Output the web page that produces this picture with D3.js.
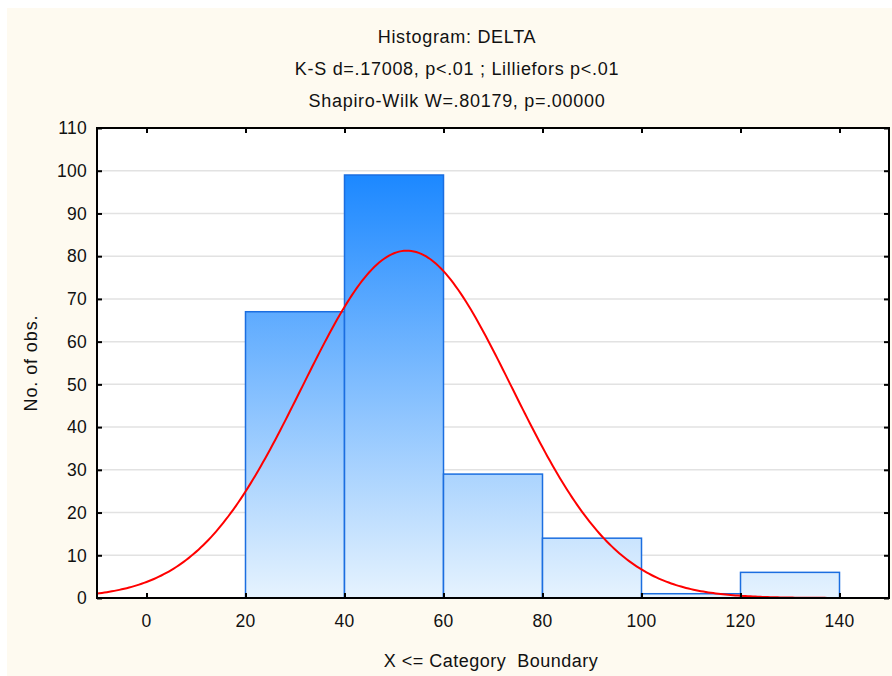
<!DOCTYPE html>
<html>
<head>
<meta charset="utf-8">
<script src="https://cdn.jsdelivr.net/npm/d3@7"></script>
<style>
  body { margin: 0; background: #fff; }
  text { font-family: "Liberation Sans", Arial, sans-serif; fill: #111; }
</style>
</head>
<body>
<div id="chart"></div>
<script>
// histogram bins (lower boundaries) and counts
const binStarts = [20, 40, 60, 80, 100, 120];
const binWidth = 20;
const counts = [67, 99, 29, 14, 1, 6];
const xTicks = [0, 20, 40, 60, 80, 100, 120, 140];
const yTicks = [0, 10, 20, 30, 40, 50, 60, 70, 80, 90, 100, 110];
const titleLines = [
  "Histogram: DELTA",
  "K-S d=.17008, p<.01 ; Lilliefors p<.01",
  "Shapiro-Wilk W=.80179, p=.00000"
];
// fitted normal: mean / sd
const fitMean = 52.6;
const fitSd = 21.2;
const nObs = d3.sum(counts);

const width = 892, height = 676;
const margin = { left: 97, right: 3, top: 128, bottom: 78 };

const svg = d3.select("#chart").append("svg")
  .attr("width", width)
  .attr("height", height);

// cream background panel
svg.append("rect")
  .attr("x", 7).attr("y", 8)
  .attr("width", width - 7).attr("height", height - 8)
  .attr("fill", "#fefaf0");

const x = d3.scaleLinear().domain([-10, 150]).range([margin.left, width - margin.right]);
const y = d3.scaleLinear().domain([0, 110]).range([height - margin.bottom, margin.top]);

// plot area
svg.append("rect")
  .attr("x", x(-10)).attr("y", y(110))
  .attr("width", x(150) - x(-10)).attr("height", y(0) - y(110))
  .attr("fill", "#fff");

// gridlines
svg.append("g")
  .selectAll("line")
  .data(yTicks.filter(d => d > 0 && d < 110))
  .enter().append("line")
  .attr("x1", x(-10)).attr("x2", x(150))
  .attr("y1", d => y(d)).attr("y2", d => y(d))
  .attr("stroke", "#e2e2e2")
  .attr("stroke-width", 1.5);

// vertical gradient shared across bars
const grad = svg.append("defs").append("linearGradient")
  .attr("id", "barGrad")
  .attr("gradientUnits", "userSpaceOnUse")
  .attr("x1", 0).attr("x2", 0)
  .attr("y1", y(99)).attr("y2", y(0));
grad.append("stop").attr("offset", 0).attr("stop-color", "#1c88ff");
grad.append("stop").attr("offset", 1).attr("stop-color", "#e6f3fe");

svg.append("g")
  .selectAll("rect")
  .data(counts)
  .enter().append("rect")
  .attr("x", (d, i) => x(binStarts[i]))
  .attr("y", d => y(d))
  .attr("width", (d, i) => x(binStarts[i] + binWidth) - x(binStarts[i]))
  .attr("height", d => y(0) - y(d))
  .attr("fill", "url(#barGrad)")
  .attr("stroke", "#1b6ee0")
  .attr("stroke-width", 1.5);

// normal fit curve
const normal = v => nObs * binWidth / (fitSd * Math.sqrt(2 * Math.PI)) *
  Math.exp(-0.5 * Math.pow((v - fitMean) / fitSd, 2));
const curveXs = d3.range(-10, 150.01, 0.5);
svg.append("path")
  .datum(curveXs)
  .attr("fill", "none")
  .attr("stroke", "#ff0000")
  .attr("stroke-width", 2)
  .attr("d", d3.line().x(d => x(d)).y(d => y(normal(d))));

// axes with inward ticks
const tickLen = 5;
svg.append("g")
  .attr("transform", `translate(${x(-10)},0)`)
  .call(d3.axisRight(y).tickValues(yTicks).tickSize(tickLen).tickFormat(""))
  .call(g => g.select(".domain").remove());
svg.append("g")
  .attr("transform", `translate(${x(150)},0)`)
  .call(d3.axisLeft(y).tickValues(yTicks).tickSize(tickLen).tickFormat(""))
  .call(g => g.select(".domain").remove());
svg.append("g")
  .attr("transform", `translate(0,${y(0)})`)
  .call(d3.axisTop(x).tickValues(xTicks).tickSize(tickLen).tickFormat(""))
  .call(g => g.select(".domain").remove());
svg.append("g")
  .attr("transform", `translate(0,${y(110)})`)
  .call(d3.axisBottom(x).tickValues(xTicks).tickSize(tickLen).tickFormat(""))
  .call(g => g.select(".domain").remove());
svg.selectAll(".tick line").attr("stroke", "#000").attr("stroke-width", 2);

// frame
svg.append("rect")
  .attr("x", x(-10)).attr("y", y(110))
  .attr("width", x(150) - x(-10)).attr("height", y(0) - y(110))
  .attr("fill", "none")
  .attr("stroke", "#000")
  .attr("stroke-width", 2);

// tick labels
svg.append("g")
  .selectAll("text")
  .data(yTicks)
  .enter().append("text")
  .attr("x", x(-10) - 10)
  .attr("y", d => y(d))
  .attr("dy", "0.36em")
  .attr("text-anchor", "end")
  .style("font-size", "17.5px")
  .style("letter-spacing", "0.3px")
  .text(d => d);
svg.append("g")
  .selectAll("text")
  .data(xTicks)
  .enter().append("text")
  .attr("x", d => x(d))
  .attr("y", y(0) + 29)
  .attr("text-anchor", "middle")
  .style("font-size", "17.5px")
  .style("letter-spacing", "0.3px")
  .text(d => d);

// titles
svg.append("g")
  .selectAll("text")
  .data(titleLines)
  .enter().append("text")
  .attr("x", 457)
  .attr("y", (d, i) => 43 + i * 32)
  .attr("text-anchor", "middle")
  .style("font-size", "18px")
  .style("letter-spacing", "0.7px")
  .text(d => d);

svg.append("text")
  .attr("x", 491)
  .attr("y", 667)
  .attr("text-anchor", "middle")
  .style("font-size", "18px")
  .style("letter-spacing", "0.5px")
  .style("white-space", "pre")
  .text("X <= Category  Boundary");

svg.append("text")
  .attr("transform", `translate(37,${(y(0) + y(110)) / 2}) rotate(-90)`)
  .attr("text-anchor", "middle")
  .style("font-size", "18px")
  .style("letter-spacing", "0.9px")
  .text("No. of obs.");
</script>
</body>
</html>
